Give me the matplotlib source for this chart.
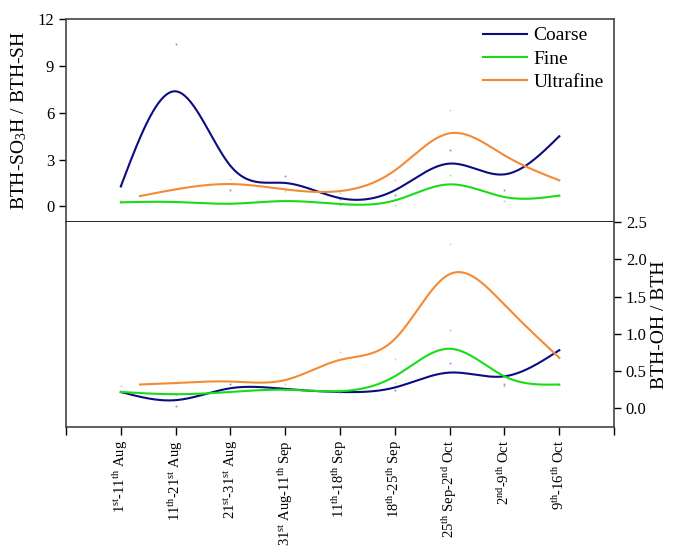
"""
plot.py
Two stacked panels of smoothed ratios for three particle size fractions.
"""

import matplotlib
matplotlib.use("Agg")
import matplotlib.pyplot as plt
import numpy as np

plt.rcParams['font.family'] = ['Liberation Serif', 'DejaVu Serif']
plt.rcParams['mathtext.fontset'] = 'custom'
plt.rcParams['mathtext.rm'] = 'Liberation Serif'
plt.rcParams['mathtext.it'] = 'Liberation Serif:italic'

periods = [r"1$^{\rm st}$-11$^{\rm th}$ Aug", r"11$^{\rm th}$-21$^{\rm st}$ Aug",
           r"21$^{\rm st}$-31$^{\rm st}$ Aug", r"31$^{\rm st}$ Aug-11$^{\rm th}$ Sep",
           r"11$^{\rm th}$-18$^{\rm th}$ Sep", r"18$^{\rm th}$-25$^{\rm th}$ Sep",
           r"25$^{\rm th}$ Sep-2$^{\rm nd}$ Oct", r"2$^{\rm nd}$-9$^{\rm th}$ Oct",
           r"9$^{\rm th}$-16$^{\rm th}$ Oct"]
idx = np.arange(1, len(periods) + 1)

# measured ratios (dots)
so3h_coarse = [1.28, 10.43, 1.03, 1.92, 0.50, 0.75, 3.63, 1.03, 4.49]
so3h_fine = [0.26, 0.28, 0.17, 0.38, 0.06, 0.11, 1.99, 0.32, 0.69]
so3h_ultra = [0.43, 1.09, 1.78, 0.96, 0.88, 1.71, 6.15, 3.27, 1.67]

oh_coarse = [0.22, 0.03, 0.33, 0.26, 0.22, 0.24, 0.61, 0.33, 0.78]
oh_fine = [0.22, 0.18, 0.22, 0.25, 0.22, 0.34, 1.05, 0.30, 0.32]
oh_ultra = [0.30, 0.34, 0.37, 0.33, 0.75, 0.66, 2.20, 1.39, 0.68]

# smoothed curve values at each period
so3h_coarse_fit = [1.28, 7.37, 2.60, 1.50, 0.53, 1.03, 2.74, 2.05, 4.49]
so3h_fine_fit = [0.26, 0.28, 0.17, 0.34, 0.15, 0.38, 1.41, 0.60, 0.69]
so3h_ultra_fit = [0.66, 1.09, 1.43, 1.09, 0.98, 2.30, 4.68, 3.27, 1.67]

oh_coarse_fit = [0.22, 0.11, 0.27, 0.26, 0.22, 0.28, 0.48, 0.43, 0.78]
oh_fine_fit = [0.22, 0.19, 0.22, 0.25, 0.23, 0.43, 0.80, 0.43, 0.32]
oh_ultra_fit = [0.32, 0.34, 0.36, 0.38, 0.65, 0.93, 1.80, 1.39, 0.68]
ultra_start = 1.35

colors = {'Coarse': '#0c0c80', 'Fine': '#19dc19', 'Ultrafine': '#f48a34'}


def spline(xk, yk, n=400):
    """Natural cubic spline through the knots."""
    xk = np.asarray(xk, float)
    yk = np.asarray(yk, float)
    h = np.diff(xk)
    m = len(xk)
    A = np.zeros((m, m))
    b = np.zeros(m)
    A[0, 0] = A[-1, -1] = 1
    for i in range(1, m - 1):
        A[i, i - 1] = h[i - 1]
        A[i, i] = 2 * (h[i - 1] + h[i])
        A[i, i + 1] = h[i]
        b[i] = 6 * ((yk[i + 1] - yk[i]) / h[i] - (yk[i] - yk[i - 1]) / h[i - 1])
    M = np.linalg.solve(A, b)
    xs = np.linspace(xk[0], xk[-1], n)
    j = np.clip(np.searchsorted(xk, xs) - 1, 0, m - 2)
    t1 = xk[j + 1] - xs
    t0 = xs - xk[j]
    ys = (M[j] * t1 ** 3 + M[j + 1] * t0 ** 3) / (6 * h[j]) \
        + (yk[j] / h[j] - M[j] * h[j] / 6) * t1 \
        + (yk[j + 1] / h[j] - M[j + 1] * h[j] / 6) * t0
    return xs, ys


def draw(ax, fits, dots):
    for name in ['Coarse', 'Fine', 'Ultrafine']:
        xk = list(idx.astype(float))
        if name == 'Ultrafine':
            xk[0] = ultra_start
        xs, ys = spline(xk, fits[name])
        ax.plot(xs, ys, color=colors[name], lw=1.5, label=name)
        ax.plot(idx, dots[name], ls='none', marker='s', ms=1.2,
                mec='none', color=colors[name], alpha=0.5)


fig = plt.figure(figsize=(6.73, 5.49), dpi=100)
left, width = 66 / 673, (614 - 66) / 673
ax1 = fig.add_axes([left, (549 - 222) / 549, width, (222 - 19) / 549])
ax2 = fig.add_axes([left, (549 - 427) / 549, width, (427 - 222) / 549])

draw(ax1, {'Coarse': so3h_coarse_fit, 'Fine': so3h_fine_fit, 'Ultrafine': so3h_ultra_fit},
     {'Coarse': so3h_coarse, 'Fine': so3h_fine, 'Ultrafine': so3h_ultra})
draw(ax2, {'Coarse': oh_coarse_fit, 'Fine': oh_fine_fit, 'Ultrafine': oh_ultra_fit},
     {'Coarse': oh_coarse, 'Fine': oh_fine, 'Ultrafine': oh_ultra})

for ax in (ax1, ax2):
    ax.set_xlim(0, 10)
    for s in ax.spines.values():
        s.set_color('#444444')
        s.set_linewidth(1.2)

ax1.set_ylim(-1, 12)
ax1.set_yticks([0, 3, 6, 9, 12])
ax1.set_xticks([])
ax1.spines['bottom'].set_color('black')
ax1.tick_params(axis='y', direction='out', length=5, width=1, labelsize=12)
ax1.set_ylabel(r"BTH-SO$_3$H / BTH-SH", fontsize=14, labelpad=6)

ax2.set_ylim(-0.25, 2.5)
ax2.set_yticks([0.0, 0.5, 1.0, 1.5, 2.0, 2.5])
ax2.set_yticklabels(['0.0', '0.5', '1.0', '1.5', '2.0', '2.5'])
ax2.yaxis.tick_right()
ax2.yaxis.set_label_position('right')
ax2.spines['top'].set_visible(False)
ax2.tick_params(axis='y', direction='out', length=5, width=1, labelsize=12)
ax2.set_ylabel("BTH-OH / BTH", fontsize=14, labelpad=3)
ax2.set_xticks(np.arange(0, 11))
ax2.set_xticklabels([''] + periods + [''], rotation=90, fontsize=10.5)
ax2.tick_params(axis='x', direction='out', length=6, width=1)

ax1.legend(loc='upper right', frameon=False, fontsize=14, handlelength=2.3,
           handletextpad=0.3, labelspacing=0.3, borderaxespad=0.0,
           bbox_to_anchor=(0.995, 1.0))

fig.savefig('out.png', dpi=100)
